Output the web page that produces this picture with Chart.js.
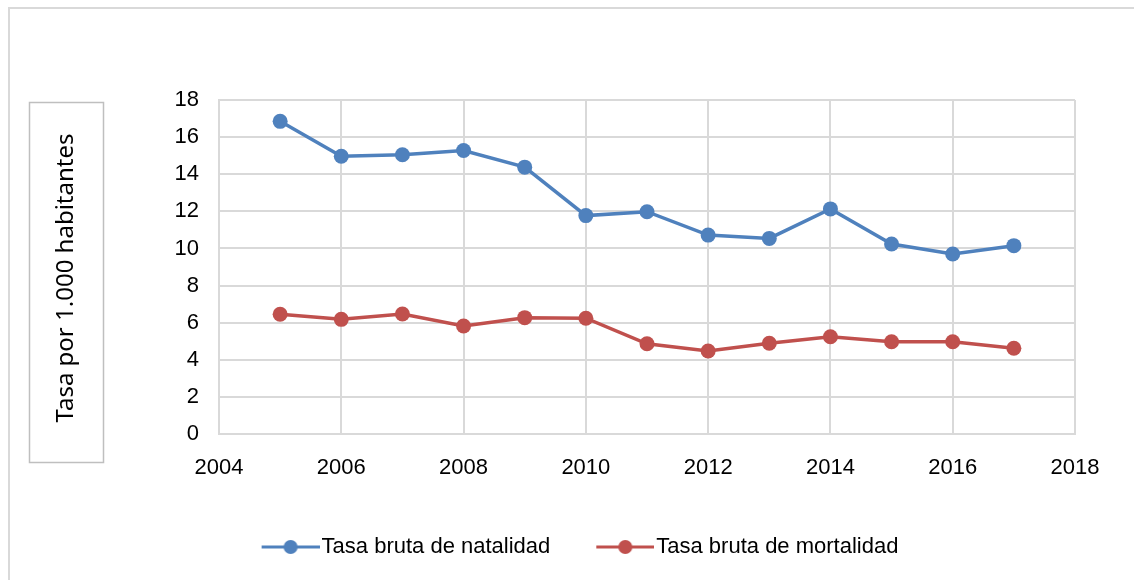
<!DOCTYPE html>
<html>
<head>
<meta charset="utf-8">
<script src="https://cdn.jsdelivr.net/npm/chart.js@4"></script>
<style>
  html, body { margin: 0; padding: 0; background: #fff; }
  #wrap { width: 1134px; height: 580px; }
</style>
</head>
<body>
<div id="wrap"><canvas id="grafico" width="1134" height="580"></canvas></div>
<script>
// Datos
const anios = [2005, 2006, 2007, 2008, 2009, 2010, 2011, 2012, 2013, 2014, 2015, 2016, 2017];
const natalidad = [16.85, 14.97, 15.05, 15.28, 14.38, 11.77, 11.98, 10.72, 10.54, 12.13, 10.24, 9.7, 10.15];
const mortalidad = [6.45, 6.18, 6.47, 5.82, 6.27, 6.24, 4.86, 4.47, 4.89, 5.24, 4.97, 4.97, 4.62];
const ticksX = [2004, 2006, 2008, 2010, 2012, 2014, 2016, 2018];
const ticksY = [0, 2, 4, 6, 8, 10, 12, 14, 16, 18];
const tituloY = 'Tasa por 1.000 habitantes';

const azul = '#4F81BD';
const rojo = '#C0504D';
const fuente = "'Liberation Sans Narrow', 'Liberation Sans', Arial, sans-serif";

// icono de leyenda: línea con marcador en el centro (estilo Excel)
// la parte izquierda del icono queda transparente
function iconoLeyenda(color) {
  const c = document.createElement('canvas');
  c.width = 101; c.height = 18;
  const g = c.getContext('2d');
  g.strokeStyle = color;
  g.lineWidth = 3;
  g.beginPath(); g.moveTo(43, 9); g.lineTo(101, 9); g.stroke();
  g.fillStyle = color;
  g.beginPath(); g.arc(72, 9, 7, 0, Math.PI * 2); g.fill();
  return c;
}
const iconos = [iconoLeyenda(azul), iconoLeyenda(rojo)];

// marco del gráfico y recuadro del título del eje Y
const marco = {
  id: 'marco',
  beforeDraw(chart) {
    const ctx = chart.ctx;
    ctx.save();
    ctx.fillStyle = '#fff';
    ctx.fillRect(0, 0, chart.width, chart.height);
    ctx.strokeStyle = '#d9d9d9';
    ctx.lineWidth = 2;
    ctx.strokeRect(9, 8, 1300, 800);
    ctx.strokeStyle = '#bfbfbf';
    ctx.lineWidth = 1.5;
    ctx.strokeRect(29.5, 102.5, 74, 360);
    ctx.translate(66, 278);
    ctx.rotate(-Math.PI / 2);
    ctx.fillStyle = '#000';
    ctx.font = "24px 'Noto Sans', 'Open Sans', sans-serif";
    ctx.textAlign = 'center';
    ctx.textBaseline = 'middle';
    ctx.fillText(tituloY, 0, 0);
    ctx.restore();
  }
};

document.addEventListener('DOMContentLoaded', function () {
  let ctx = document.getElementById('grafico').getContext('2d');

  new Chart(ctx, {
    type: 'line',
    data: {
      datasets: [{
        label: 'Tasa bruta de natalidad',
        data: anios.map((a, i) => ({ x: a, y: natalidad[i] })),
        borderColor: azul,
        backgroundColor: azul,
        borderWidth: 3.5,
        pointRadius: 7.5,
        pointHoverRadius: 7.5,
        pointBorderWidth: 0,
        tension: 0
      }, {
        label: 'Tasa bruta de mortalidad',
        data: anios.map((a, i) => ({ x: a, y: mortalidad[i] })),
        borderColor: rojo,
        backgroundColor: rojo,
        borderWidth: 3.5,
        pointRadius: 7.5,
        pointHoverRadius: 7.5,
        pointBorderWidth: 0,
        tension: 0
      }]
    },
    options: {
      responsive: false,
      animation: false,
      layout: { padding: { left: 51, right: 59, top: 100, bottom: 12 } },
      scales: {
        x: {
          type: 'linear',
          min: ticksX[0],
          max: ticksX[ticksX.length - 1],
          afterBuildTicks: axis => { axis.ticks = ticksX.map(v => ({ value: v })); },
          afterFit: axis => { axis.height = 90; },
          grid: { color: '#d9d9d9', lineWidth: 2, drawTicks: false },
          border: { color: '#d9d9d9', width: 2 },
          ticks: {
            color: '#000',
            padding: 21,
            font: { family: fuente, size: 22 },
            callback: v => String(v)
          }
        },
        y: {
          min: ticksY[0],
          max: ticksY[ticksY.length - 1],
          afterBuildTicks: axis => { axis.ticks = ticksY.map(v => ({ value: v })); },
          afterFit: axis => { axis.width = 168; },
          grid: { color: '#d9d9d9', lineWidth: 2, drawTicks: false },
          border: { color: '#d9d9d9', width: 2 },
          ticks: {
            color: '#000',
            padding: 20,
            font: { family: fuente, size: 22 }
          }
        }
      },
      plugins: {
        tooltip: { enabled: false },
        legend: {
          position: 'bottom',
          labels: {
            usePointStyle: true,
            pointStyleWidth: 83,
            padding: 12,
            color: '#000',
            font: { family: fuente, size: 22 },
            generateLabels: chart => {
              const items = Chart.defaults.plugins.legend.labels.generateLabels(chart);
              items.forEach((it, i) => { it.pointStyle = iconos[i]; });
              return items;
            }
          }
        }
      }
    },
    plugins: [marco]
  });
});
</script>
</body>
</html>
